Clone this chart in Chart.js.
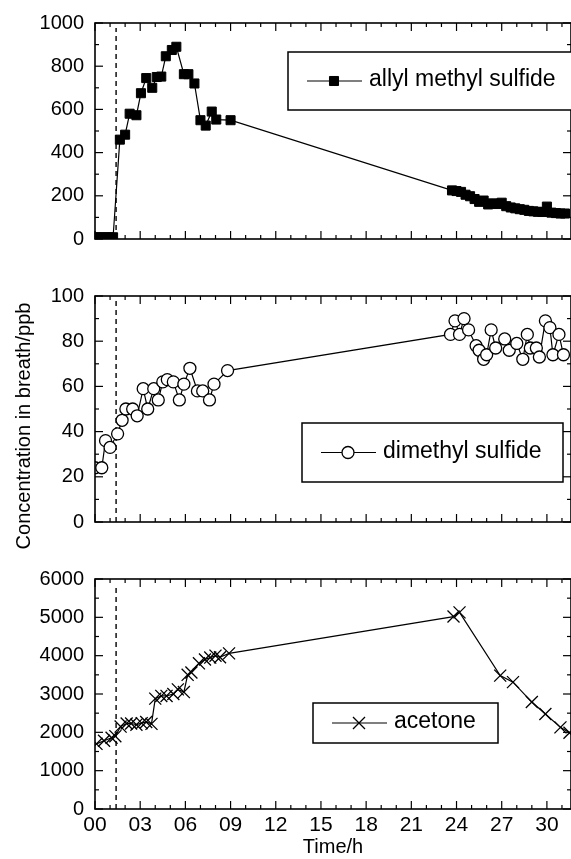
<!DOCTYPE html>
<html>
<head>
<meta charset="utf-8">
<script src="https://cdn.jsdelivr.net/npm/chart.js@4.4.1/dist/chart.umd.min.js"></script>
<style>
  body { margin: 0; background: #fff; }
  #wrap { position: relative; width: 571px; height: 859px; overflow: hidden; font-family: "Liberation Sans", Arial, sans-serif; }
  .panel { position: absolute; left: 0; }
  #ytitle { position: absolute; left: -127px; top: 414px; width: 300px; text-align: center;
            font-size: 20px; line-height: 24px; color: #000; transform: rotate(-90deg); }
</style>
</head>
<body>
<div id="wrap">
  <canvas id="c1" class="panel" style="top:0" width="571" height="262"></canvas>
  <canvas id="c2" class="panel" style="top:270px" width="571" height="275"></canvas>
  <canvas id="c3" class="panel" style="top:555px" width="571" height="304"></canvas>
  <div id="ytitle">Concentration in breath/ppb</div>
</div>
<script>
// time of garlic intake (dashed line), hours
const DOSE_TIME = 1.4;
const X_MAX = 31.6;

// allyl methyl sulfide
const amsTime = [0.05, 0.35, 0.65, 0.95, 1.2, 1.65, 2.0, 2.3, 2.75, 3.05, 3.4, 3.8, 4.1, 4.4, 4.7, 5.1, 5.4, 5.9, 6.2, 6.6,
  7.0, 7.35, 7.75, 8.05, 9.0,
  23.7, 24.0, 24.3, 24.6, 24.9, 25.2, 25.5, 25.8, 26.1, 26.4, 26.7, 27.0, 27.3, 27.6, 27.9, 28.2, 28.5, 28.8, 29.1,
  29.4, 29.7, 30.0, 30.3, 30.6, 30.9, 31.2];
const amsConc = [8, 8, 8, 8, 8, 460, 483, 580, 573, 675, 745, 700, 750, 752, 846, 875, 890, 763, 763, 720,
  550, 525, 590, 553, 550,
  225, 222, 218, 205, 198, 185, 172, 178, 160, 165, 162, 168, 152, 146, 142, 138, 135, 130, 128,
  126, 125, 150, 122, 120, 118, 118];

// dimethyl sulfide
const dmsTime = [0, 0.45, 0.7, 1.0, 1.5, 1.8, 2.05, 2.5, 2.8, 3.2, 3.5, 3.9, 4.2, 4.5, 4.8, 5.2, 5.6, 5.9, 6.3, 6.8,
  7.15, 7.6, 7.9, 8.8,
  23.6, 23.9, 24.2, 24.5, 24.8, 25.3, 25.5, 25.8, 26.0, 26.3, 26.6, 27.2, 27.5, 28.0, 28.4, 28.7, 28.9, 29.3, 29.5,
  29.9, 30.2, 30.4, 30.8, 31.1];
const dmsConc = [24, 24, 36, 33, 39, 45, 50, 50, 47, 59, 50, 59, 54, 62, 63, 62, 54, 61, 68, 58,
  58, 54, 61, 67,
  83, 89, 83, 90, 85, 78, 76, 72, 74, 85, 77, 81, 76, 79, 72, 83, 77, 77, 73,
  89, 86, 74, 83, 74];

// acetone
const acetoneTime = [0.1, 0.6, 1.1, 1.35, 1.7, 2.1, 2.4, 2.75, 3.1, 3.4, 3.75, 4.0, 4.4, 4.75, 5.2, 5.5, 5.9, 6.15,
  6.4, 6.9, 7.3, 7.65, 8.0, 8.3, 8.9,
  23.8, 24.2, 26.9, 27.75, 29.0, 29.9, 30.9, 31.5];
const acetoneConc = [1700, 1780, 1860, 1900, 2150, 2230, 2230, 2200, 2240, 2270, 2220, 2880, 2950, 2950, 3000, 3120, 3050, 3500,
  3560, 3800, 3900, 3950, 4000, 3960, 4060,
  5020, 5130, 3480, 3310, 2790, 2480, 2130, 1990];

Chart.defaults.font.family = '"Liberation Sans", Arial, sans-serif';
Chart.defaults.color = '#000';

function seg(ctx, x1, y1, x2, y2) {
  ctx.beginPath();
  ctx.moveTo(x1, y1);
  ctx.lineTo(x2, y2);
  ctx.stroke();
}

// frame with inward ticks, dashed dose line and boxed legend
const framePlugin = {
  id: 'frame',
  beforeDatasetsDraw(chart) {
    const { ctx, chartArea: a, scales: { x } } = chart;
    const px = x.getPixelForValue(DOSE_TIME);
    ctx.save();
    ctx.strokeStyle = '#000';
    ctx.lineWidth = 1.4;
    ctx.setLineDash([5, 4]);
    seg(ctx, px, a.bottom, px, a.top + 5);
    ctx.restore();
  },
  afterDatasetsDraw(chart, args, opts) {
    const { ctx, chartArea: a, scales: { x, y } } = chart;
    ctx.save();
    ctx.strokeStyle = '#000';
    ctx.lineWidth = 1.2;
    for (let t = 0; t <= x.max; t++) {
      const p = x.getPixelForValue(t);
      const len = t % 3 === 0 ? 8 : 4;
      seg(ctx, p, a.bottom, p, a.bottom - len);
      seg(ctx, p, a.top, p, a.top + len);
    }
    for (let i = 0; i * opts.yMinor <= y.max; i++) {
      const p = y.getPixelForValue(i * opts.yMinor);
      const len = i % 2 === 0 ? 8 : 4;
      seg(ctx, a.left, p, a.left + len, p);
      seg(ctx, a.right, p, a.right - len, p);
    }
    ctx.lineWidth = 1.6;
    ctx.strokeRect(a.left, a.top, a.width, a.height);

    // legend box
    const lg = opts.legend;
    const ds = chart.data.datasets[0];
    const bx = a.left + lg.dx, by = a.top + lg.dy;
    const cy = by + lg.h / 2;
    ctx.fillStyle = '#fff';
    ctx.fillRect(bx, by, lg.w, lg.h);
    ctx.lineWidth = 1.5;
    ctx.strokeRect(bx, by, lg.w, lg.h);
    ctx.lineWidth = 1.2;
    seg(ctx, bx + 19, cy, bx + 74, cy);
    ctx.fillStyle = ds.pointBackgroundColor;
    ctx.lineWidth = ds.pointBorderWidth;
    Chart.helpers.drawPoint(ctx, {
      pointStyle: ds.pointStyle, radius: ds.pointRadius, borderWidth: ds.pointBorderWidth, rotation: 0
    }, bx + 46, cy);
    ctx.fillStyle = '#000';
    ctx.font = '23px "Liberation Sans", Arial, sans-serif';
    ctx.textBaseline = 'alphabetic';
    ctx.textAlign = 'left';
    ctx.fillText(ds.label, bx + 81, cy + 5);
    ctx.restore();
  }
};

function makePanel(id, dataset, yMax, yStep, pad, legend, showTime) {
  const xAxis = {
    type: 'linear', min: 0, max: X_MAX,
    grid: { display: false, drawTicks: false },
    border: { display: false },
    ticks: {
      display: showTime, stepSize: 3, includeBounds: false, autoSkip: false, maxRotation: 0,
      padding: 4, font: { size: 21 },
      callback: v => String(v).padStart(2, '0')
    },
    title: { display: showTime, text: 'Time/h', font: { size: 20 }, padding: { top: 0, bottom: 0 } },
    afterFit: s => { s.height = showTime ? 50 : 0; }
  };
  return new Chart(document.getElementById(id), {
    type: 'line',
    data: { datasets: [dataset] },
    options: {
      responsive: false,
      animation: false,
      layout: { padding: pad, autoPadding: false },
      scales: {
        x: xAxis,
        y: {
          min: 0, max: yMax,
          grid: { display: false, drawTicks: false },
          border: { display: false },
          ticks: { stepSize: yStep, padding: 11, font: { size: 20 }, callback: v => String(v) },
          afterFit: s => { s.width = 95; }
        }
      },
      plugins: {
        legend: { display: false },
        tooltip: { enabled: false },
        frame: { yMinor: yStep / 2, legend: legend }
      }
    },
    plugins: [framePlugin]
  });
}

const lineStyle = { borderColor: '#000', borderWidth: 1.2, tension: 0, pointBorderColor: '#000' };

makePanel('c1', {
  ...lineStyle,
  label: 'allyl methyl sulfide',
  data: amsTime.map((t, i) => ({ x: t, y: amsConc[i] })),
  pointStyle: 'rect', pointRadius: 6.4, pointBackgroundColor: '#000', pointBorderWidth: 1
}, 1000, 200, { top: 20, bottom: 14, left: 0, right: 0 }, { dx: 193, dy: 29, w: 300, h: 58 }, false);

makePanel('c2', {
  ...lineStyle,
  label: 'dimethyl sulfide',
  data: dmsTime.map((t, i) => ({ x: t, y: dmsConc[i] })),
  pointStyle: 'circle', pointRadius: 6, pointBackgroundColor: '#fff', pointBorderWidth: 1.3
}, 100, 20, { top: 26, bottom: 15, left: 0, right: 0 }, { dx: 207, dy: 127, w: 261, h: 59 }, false);

makePanel('c3', {
  ...lineStyle,
  label: 'acetone',
  data: acetoneTime.map((t, i) => ({ x: t, y: acetoneConc[i] })),
  pointStyle: 'crossRot', pointRadius: 8.5, pointBackgroundColor: '#000', pointBorderWidth: 1.3
}, 6000, 1000, { top: 24, bottom: 0, left: 0, right: 0 }, { dx: 218, dy: 124, w: 185, h: 40 }, true);
</script>
</body>
</html>
